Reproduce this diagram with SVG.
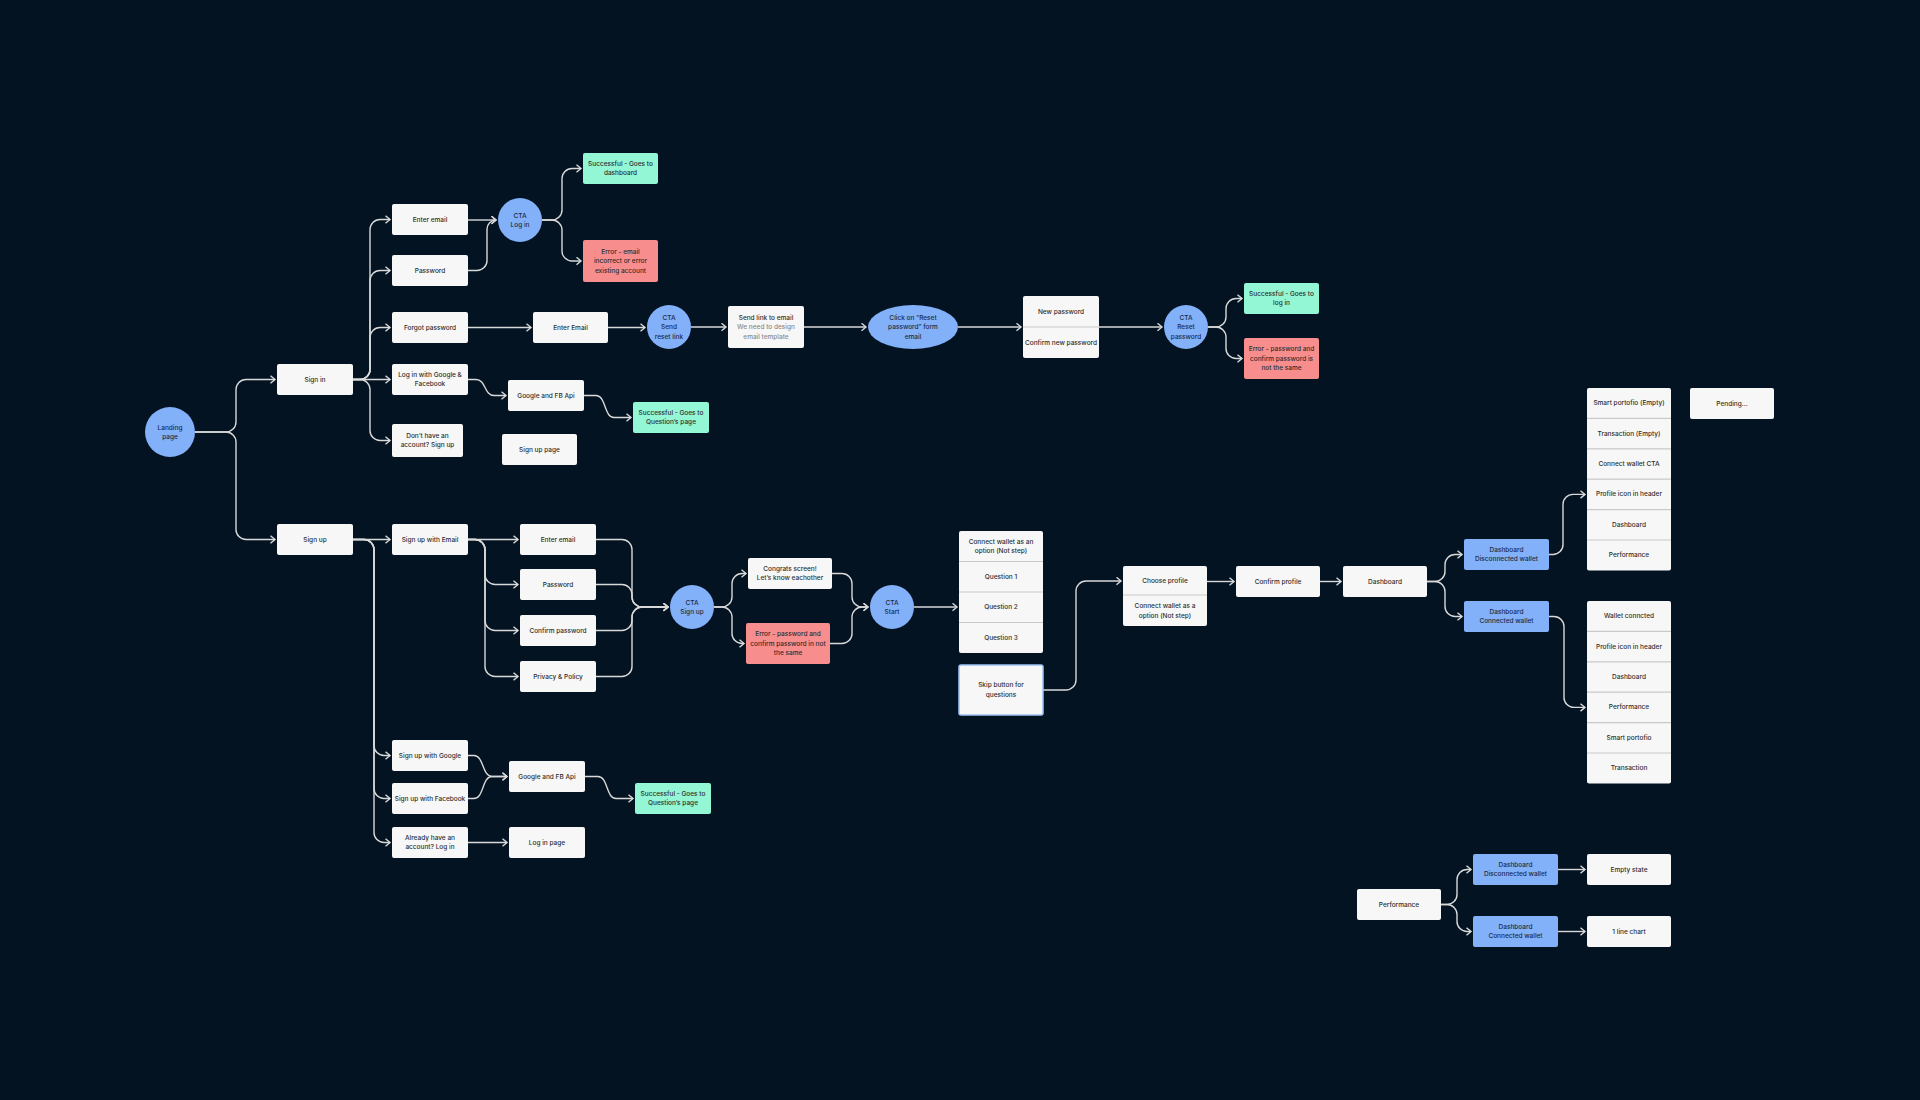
<svg xmlns="http://www.w3.org/2000/svg" width="1920" height="1100" viewBox="0 0 1920 1100">
<defs>
<style>
.box{fill:#f7f7f7}
.cta{fill:#82b1f9}
.ok{fill:#93f6d5}
.err{fill:#f88d8d}
.skip{fill:#f7f7f7;stroke:#9fc4f6;stroke-width:1.5}
.div{stroke:#c9c9c9;stroke-width:1.2}
.t{font-family:Inter,"Noto Sans","Liberation Sans",sans-serif;font-size:6.5px;font-weight:500;fill:#2e2e2e;text-anchor:middle;dominant-baseline:central}
.tb{fill:#1b2a46}
.tg{fill:#8a8a8a}
.e{fill:none;stroke:#d9d9d9;stroke-width:1.4;marker-end:url(#a)}
</style>
<marker id="a" markerWidth="8" markerHeight="10" refX="5.5" refY="4.5" orient="auto" markerUnits="userSpaceOnUse">
<path d="M1,0.8 L5.5,4.5 L1,8.2" fill="none" stroke="#d9d9d9" stroke-width="1.4"/>
</marker>
</defs>
<rect width="1920" height="1100" fill="#031322"/>

<g id="connectors">
<path class="e" d="M195,432 H226 A10,10 0 0 0 236,422 V389.5 A10,10 0 0 1 246,379.5 H275"/>
<path class="e" d="M195,432 H226 A10,10 0 0 1 236,442 V529.5 A10,10 0 0 0 246,539.5 H275"/>
<path class="e" d="M353,379.5 H360 A10,10 0 0 0 370,369.5 V229.5 A10,10 0 0 1 380,219.5 H390"/>
<path class="e" d="M353,379.5 H360 A10,10 0 0 0 370,369.5 V280.5 A10,10 0 0 1 380,270.5 H390"/>
<path class="e" d="M353,379.5 H360 A10,10 0 0 0 370,369.5 V337.5 A10,10 0 0 1 380,327.5 H390"/>
<path class="e" d="M353,379.5 H390"/>
<path class="e" d="M353,379.5 H360 A10,10 0 0 1 370,389.5 V430.5 A10,10 0 0 0 380,440.5 H390"/>
<path class="e" d="M468,220 H496"/>
<path class="e" d="M468,270.5 H477 A10,10 0 0 0 487,260.5 V229 A9,9 0 0 1 496,220"/>
<path class="e" d="M542,220 H552 A10,10 0 0 0 562,210 V178.5 A10,10 0 0 1 572,168.5 H581"/>
<path class="e" d="M542,220 H552 A10,10 0 0 1 562,230 V251 A10,10 0 0 0 572,261 H581"/>
<path class="e" d="M468,327.5 H531"/>
<path class="e" d="M608,327.5 H645"/>
<path class="e" d="M691,327 H726"/>
<path class="e" d="M804,327 H866"/>
<path class="e" d="M958,327 H1021"/>
<path class="e" d="M1099,327 H1162"/>
<path class="e" d="M1208,327 H1216 A10,10 0 0 0 1226,317 V308.5 A10,10 0 0 1 1236,298.5 H1242"/>
<path class="e" d="M1208,327 H1216 A10,10 0 0 1 1226,337 V348.5 A10,10 0 0 0 1236,358.5 H1242"/>
<path class="e" d="M468,379.5 H476 C486,379.5 484,395.5 494,395.5 H506"/>
<path class="e" d="M584,395.5 H596 C606,395.5 604,417.5 614,417.5 H631"/>
<path class="e" d="M353,539.5 H390"/>
<path class="e" d="M353,539.5 H364 A10,10 0 0 1 374,549.5 V745.5 A10,10 0 0 0 384,755.5 H390"/>
<path class="e" d="M353,539.5 H364 A10,10 0 0 1 374,549.5 V788.5 A10,10 0 0 0 384,798.5 H390"/>
<path class="e" d="M353,539.5 H364 A10,10 0 0 1 374,549.5 V832.5 A10,10 0 0 0 384,842.5 H390"/>
<path class="e" d="M468,539.5 H518"/>
<path class="e" d="M468,539.5 H475 A10,10 0 0 1 485,549.5 V574.5 A10,10 0 0 0 495,584.5 H518"/>
<path class="e" d="M468,539.5 H475 A10,10 0 0 1 485,549.5 V620.5 A10,10 0 0 0 495,630.5 H518"/>
<path class="e" d="M468,539.5 H475 A10,10 0 0 1 485,549.5 V666.5 A10,10 0 0 0 495,676.5 H518"/>
<path class="e" d="M596,539.5 H622 A10,10 0 0 1 632,549.5 V597 A10,10 0 0 0 642,607 H668"/>
<path class="e" d="M596,584.5 H622 A10,10 0 0 1 632,594.5 V597 A10,10 0 0 0 642,607 H668"/>
<path class="e" d="M596,630.5 H622 A10,10 0 0 0 632,620.5 V617 A10,10 0 0 1 642,607 H668"/>
<path class="e" d="M596,676.5 H622 A10,10 0 0 0 632,666.5 V617 A10,10 0 0 1 642,607 H668"/>
<path class="e" d="M714,607 H722 A10,10 0 0 0 732,597 V583.5 A10,10 0 0 1 742,573.5 H746"/>
<path class="e" d="M714,607 H722 A10,10 0 0 1 732,617 V633.5 A10,10 0 0 0 742,643.5 H744"/>
<path class="e" d="M832,573.5 H842 A10,10 0 0 1 852,583.5 V597 A10,10 0 0 0 862,607 H868"/>
<path class="e" d="M830,643.5 H842 A10,10 0 0 0 852,633.5 V617 A10,10 0 0 1 862,607 H868"/>
<path class="e" d="M914,607 H957"/>
<path class="e" d="M1043,690 H1066 A10,10 0 0 0 1076,680 V591 A10,10 0 0 1 1086,581 H1121"/>
<path class="e" d="M1207,581.5 H1234"/>
<path class="e" d="M1320,581.5 H1341"/>
<path class="e" d="M1427,581.5 H1435 A10,10 0 0 0 1445,571.5 V564.5 A10,10 0 0 1 1455,554.5 H1462"/>
<path class="e" d="M1427,581.5 H1435 A10,10 0 0 1 1445,591.5 V606.5 A10,10 0 0 0 1455,616.5 H1462"/>
<path class="e" d="M1549,554.5 H1553 A10,10 0 0 0 1563,544.5 V504.4 A10,10 0 0 1 1573,494.4 H1585"/>
<path class="e" d="M1549,616.5 H1554 A10,10 0 0 1 1564,626.5 V697.4 A10,10 0 0 0 1574,707.4 H1585"/>
<path class="e" d="M468,755.5 H474 C484,755.5 482,776.5 492,776.5 H507"/>
<path class="e" d="M468,798.5 H474 C484,798.5 482,776.5 492,776.5 H507"/>
<path class="e" d="M585,776.5 H598 C608,776.5 606,798.5 616,798.5 H633"/>
<path class="e" d="M468,842.5 H507"/>
<path class="e" d="M1441,904.5 H1447 A10,10 0 0 0 1457,894.5 V879.5 A10,10 0 0 1 1467,869.5 H1471"/>
<path class="e" d="M1441,904.5 H1447 A10,10 0 0 1 1457,914.5 V921.5 A10,10 0 0 0 1467,931.5 H1471"/>
<path class="e" d="M1558,869.5 H1585"/>
<path class="e" d="M1558,931.5 H1585"/>
</g>

<g id="landing"><circle class="cta" cx="170" cy="432" r="25"/><text class="t tb"><tspan x="170" y="427.5">Landing</tspan><tspan x="170" y="437">page</tspan></text></g>
<g id="signin"><rect class="box" x="277" y="364" width="76" height="31" rx="2"/><text class="t" x="315" y="379.5">Sign in</text></g>
<g id="si-email"><rect class="box" x="392" y="204" width="76" height="31" rx="2"/><text class="t" x="430" y="219.5">Enter email</text></g>
<g id="si-password"><rect class="box" x="392" y="255" width="76" height="31" rx="2"/><text class="t" x="430" y="270.5">Password</text></g>
<g id="cta-login"><circle class="cta" cx="520" cy="220" r="22"/><text class="t tb"><tspan x="520" y="215.5">CTA</tspan><tspan x="520" y="225">Log in</tspan></text></g>
<g id="ok-dashboard"><rect class="ok" x="583" y="153" width="75" height="31" rx="2"/><text class="t"><tspan x="620.5" y="163.8">Successful - Goes to</tspan><tspan x="620.5" y="173.3">dashboard</tspan></text></g>
<g id="err-email"><rect class="err" x="583" y="240" width="75" height="42" rx="2"/><text class="t"><tspan x="620.5" y="251.5">Error - email</tspan><tspan x="620.5" y="261">incorrect or error</tspan><tspan x="620.5" y="270.5">existing account</tspan></text></g>
<g id="forgot"><rect class="box" x="392" y="312" width="76" height="31" rx="2"/><text class="t" x="430" y="327.5">Forgot password</text></g>
<g id="fp-email"><rect class="box" x="533" y="312" width="75" height="31" rx="2"/><text class="t" x="570.5" y="327.5">Enter Email</text></g>
<g id="cta-send"><circle class="cta" cx="669" cy="327" r="22"/><text class="t tb"><tspan x="669" y="317.5">CTA</tspan><tspan x="669" y="327">Send</tspan><tspan x="669" y="336.5">reset link</tspan></text></g>
<g id="send-link"><rect class="box" x="728" y="306" width="76" height="42" rx="2"/><text class="t"><tspan x="766" y="317.5">Send link to email</tspan><tspan class="tg" x="766" y="327">We need to design</tspan><tspan class="tg" x="766" y="336.5">email template</tspan></text></g>
<g id="click-reset"><ellipse class="cta" cx="913" cy="327" rx="45" ry="22"/><text class="t tb"><tspan x="913" y="317.5">Click on “Reset</tspan><tspan x="913" y="327">password” form</tspan><tspan x="913" y="336.5">email</tspan></text></g>
<g id="new-password"><rect class="box" x="1023" y="296" width="76" height="62" rx="2"/><line class="div" x1="1023" y1="327" x2="1099" y2="327"/><text class="t"><tspan x="1061" y="312">New password</tspan><tspan x="1061" y="342.5">Confirm new password</tspan></text></g>
<g id="cta-reset"><circle class="cta" cx="1186" cy="327" r="22"/><text class="t tb"><tspan x="1186" y="317.5">CTA</tspan><tspan x="1186" y="327">Reset</tspan><tspan x="1186" y="336.5">password</tspan></text></g>
<g id="ok-login"><rect class="ok" x="1244" y="283" width="75" height="31" rx="2"/><text class="t"><tspan x="1281.5" y="293.8">Successful - Goes to</tspan><tspan x="1281.5" y="303.3">log in</tspan></text></g>
<g id="err-reset"><rect class="err" x="1244" y="338" width="75" height="41" rx="2"/><text class="t"><tspan x="1281.5" y="349">Error - password and</tspan><tspan x="1281.5" y="358.5">confirm password is</tspan><tspan x="1281.5" y="368">not the same</tspan></text></g>
<g id="si-google"><rect class="box" x="392" y="364" width="76" height="31" rx="2"/><text class="t"><tspan x="430" y="374.8">Log in with Google &amp;</tspan><tspan x="430" y="384.3">Facebook</tspan></text></g>
<g id="si-api"><rect class="box" x="508" y="380" width="76" height="31" rx="2"/><text class="t" x="546" y="395.5">Google and FB Api</text></g>
<g id="ok-question1"><rect class="ok" x="633" y="402" width="76" height="31" rx="2"/><text class="t"><tspan x="671" y="412.8">Successful - Goes to</tspan><tspan x="671" y="422.3">Question’s page</tspan></text></g>
<g id="dont-have"><rect class="box" x="392" y="424" width="71" height="33" rx="2"/><text class="t"><tspan x="427.5" y="435.8">Don’t have an</tspan><tspan x="427.5" y="445.3">account? Sign up</tspan></text></g>
<g id="signup-page"><rect class="box" x="502" y="434" width="75" height="31" rx="2"/><text class="t" x="539.5" y="449.5">Sign up page</text></g>

<g id="signup"><rect class="box" x="277" y="524" width="76" height="31" rx="2"/><text class="t" x="315" y="539.5">Sign up</text></g>
<g id="su-email"><rect class="box" x="392" y="524" width="76" height="31" rx="2"/><text class="t" x="430" y="539.5">Sign up with Email</text></g>
<g id="f-email"><rect class="box" x="520" y="524" width="76" height="31" rx="2"/><text class="t" x="558" y="539.5">Enter email</text></g>
<g id="f-password"><rect class="box" x="520" y="569" width="76" height="31" rx="2"/><text class="t" x="558" y="584.5">Password</text></g>
<g id="f-confirm"><rect class="box" x="520" y="615" width="76" height="31" rx="2"/><text class="t" x="558" y="630.5">Confirm password</text></g>
<g id="f-privacy"><rect class="box" x="520" y="661" width="76" height="31" rx="2"/><text class="t" x="558" y="676.5">Privacy &amp; Policy</text></g>
<g id="cta-signup"><circle class="cta" cx="692" cy="607" r="22"/><text class="t tb"><tspan x="692" y="602.5">CTA</tspan><tspan x="692" y="612">Sign up</tspan></text></g>
<g id="congrats"><rect class="box" x="748" y="558" width="84" height="31" rx="2"/><text class="t"><tspan x="790" y="568.8">Congrats screen!</tspan><tspan x="790" y="578.3">Let’s know eachother</tspan></text></g>
<g id="err-signup"><rect class="err" x="746" y="623" width="84" height="41" rx="2"/><text class="t"><tspan x="788" y="634">Error - password and</tspan><tspan x="788" y="643.5">confirm password in not</tspan><tspan x="788" y="653">the same</tspan></text></g>
<g id="cta-start"><circle class="cta" cx="892" cy="607" r="22"/><text class="t tb"><tspan x="892" y="602.5">CTA</tspan><tspan x="892" y="612">Start</tspan></text></g>
<g id="questions"><rect class="box" x="959" y="531" width="84" height="122" rx="2"/><line class="div" x1="959" y1="561.5" x2="1043" y2="561.5"/><line class="div" x1="959" y1="592" x2="1043" y2="592"/><line class="div" x1="959" y1="622.5" x2="1043" y2="622.5"/><text class="t"><tspan x="1001" y="541.5">Connect wallet as an</tspan><tspan x="1001" y="551">option (Not step)</tspan><tspan x="1001" y="576.8">Question 1</tspan><tspan x="1001" y="607.3">Question 2</tspan><tspan x="1001" y="637.8">Question 3</tspan></text></g>
<g id="skip"><rect class="skip" x="959" y="665" width="84" height="50" rx="2"/><text class="t"><tspan x="1001" y="685.3">Skip button for</tspan><tspan x="1001" y="694.8">questions</tspan></text></g>
<g id="choose-profile"><rect class="box" x="1123" y="566" width="84" height="60" rx="2"/><line class="div" x1="1123" y1="595" x2="1207" y2="595"/><text class="t"><tspan x="1165" y="581">Choose profile</tspan><tspan x="1165" y="606">Connect wallet as a</tspan><tspan x="1165" y="615.5">option (Not step)</tspan></text></g>
<g id="confirm-profile"><rect class="box" x="1236" y="566" width="84" height="31" rx="2"/><text class="t" x="1278" y="581.5">Confirm profile</text></g>
<g id="dashboard"><rect class="box" x="1343" y="566" width="84" height="31" rx="2"/><text class="t" x="1385" y="581.5">Dashboard</text></g>
<g id="dash-disc"><rect class="cta" x="1464" y="539" width="85" height="31" rx="2"/><text class="t tb"><tspan x="1506.5" y="549.8">Dashboard</tspan><tspan x="1506.5" y="559.3">Disconnected wallet</tspan></text></g>
<g id="dash-conn"><rect class="cta" x="1464" y="601" width="85" height="31" rx="2"/><text class="t tb"><tspan x="1506.5" y="611.8">Dashboard</tspan><tspan x="1506.5" y="621.3">Connected wallet</tspan></text></g>
<g id="stack-disc"><rect class="box" x="1587" y="388" width="84" height="182.4" rx="2"/><line class="div" x1="1587" y1="418.4" x2="1671" y2="418.4"/><line class="div" x1="1587" y1="448.8" x2="1671" y2="448.8"/><line class="div" x1="1587" y1="479.2" x2="1671" y2="479.2"/><line class="div" x1="1587" y1="509.6" x2="1671" y2="509.6"/><line class="div" x1="1587" y1="540" x2="1671" y2="540"/><text class="t"><tspan x="1629" y="403.2">Smart portofio (Empty)</tspan><tspan x="1629" y="433.6">Transaction (Empty)</tspan><tspan x="1629" y="464">Connect wallet CTA</tspan><tspan x="1629" y="494.4">Profile icon in header</tspan><tspan x="1629" y="524.8">Dashboard</tspan><tspan x="1629" y="555.2">Performance</tspan></text></g>
<g id="pending"><rect class="box" x="1690" y="388" width="84" height="31" rx="2"/><text class="t" x="1732" y="403.5">Pending...</text></g>
<g id="stack-conn"><rect class="box" x="1587" y="601" width="84" height="182.4" rx="2"/><line class="div" x1="1587" y1="631.4" x2="1671" y2="631.4"/><line class="div" x1="1587" y1="661.8" x2="1671" y2="661.8"/><line class="div" x1="1587" y1="692.2" x2="1671" y2="692.2"/><line class="div" x1="1587" y1="722.6" x2="1671" y2="722.6"/><line class="div" x1="1587" y1="753" x2="1671" y2="753"/><text class="t"><tspan x="1629" y="616.2">Wallet conncted</tspan><tspan x="1629" y="646.6">Profile icon in header</tspan><tspan x="1629" y="677">Dashboard</tspan><tspan x="1629" y="707.4">Performance</tspan><tspan x="1629" y="737.8">Smart portofio</tspan><tspan x="1629" y="768.2">Transaction</tspan></text></g>
<g id="su-google"><rect class="box" x="392" y="740" width="76" height="31" rx="2"/><text class="t" x="430" y="755.5">Sign up with Google</text></g>
<g id="su-facebook"><rect class="box" x="392" y="783" width="76" height="31" rx="2"/><text class="t" x="430" y="798.5">Sign up with Facebook</text></g>
<g id="su-api"><rect class="box" x="509" y="761" width="76" height="31" rx="2"/><text class="t" x="547" y="776.5">Google and FB Api</text></g>
<g id="ok-question2"><rect class="ok" x="635" y="783" width="76" height="31" rx="2"/><text class="t"><tspan x="673" y="793.8">Successful - Goes to</tspan><tspan x="673" y="803.3">Question’s page</tspan></text></g>
<g id="already"><rect class="box" x="392" y="827" width="76" height="31" rx="2"/><text class="t"><tspan x="430" y="837.8">Already have an</tspan><tspan x="430" y="847.3">account? Log in</tspan></text></g>
<g id="login-page"><rect class="box" x="509" y="827" width="76" height="31" rx="2"/><text class="t" x="547" y="842.5">Log in page</text></g>
<g id="performance"><rect class="box" x="1357" y="889" width="84" height="31" rx="2"/><text class="t" x="1399" y="904.5">Performance</text></g>
<g id="perf-disc"><rect class="cta" x="1473" y="854" width="85" height="31" rx="2"/><text class="t tb"><tspan x="1515.5" y="864.8">Dashboard</tspan><tspan x="1515.5" y="874.3">Disconnected wallet</tspan></text></g>
<g id="perf-conn"><rect class="cta" x="1473" y="916" width="85" height="31" rx="2"/><text class="t tb"><tspan x="1515.5" y="926.8">Dashboard</tspan><tspan x="1515.5" y="936.3">Connected wallet</tspan></text></g>
<g id="empty-state"><rect class="box" x="1587" y="854" width="84" height="31" rx="2"/><text class="t" x="1629" y="869.5">Empty state</text></g>
<g id="line-chart"><rect class="box" x="1587" y="916" width="84" height="31" rx="2"/><text class="t" x="1629" y="931.5">1 line chart</text></g>
</svg>
